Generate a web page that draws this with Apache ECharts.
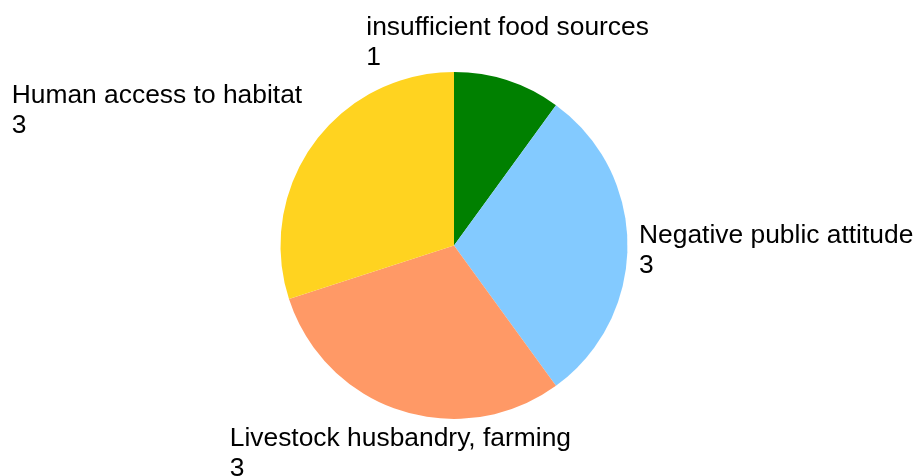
<!DOCTYPE html>
<html>
<head>
<meta charset="utf-8">
<script src="https://cdn.jsdelivr.net/npm/echarts@6/dist/echarts.min.js"></script>
<style>html,body{margin:0;padding:0;background:#fff;}#c{width:918px;height:476px;}</style>
</head>
<body>
<div id="c"></div>
<script>
const categories = ['insufficient food sources', 'Negative public attitude', 'Livestock husbandry, farming', 'Human access to habitat'];
const values = [1, 3, 3, 3];
const colors = ['#008000', '#83CAFF', '#FF9966', '#FFD320'];

const CX = 454, CY = 245.5, R = 173.5;
const total = values.reduce((a, b) => a + b, 0);
function midAngle(i) {
  let before = 0;
  for (let k = 0; k < i; k++) before += values[k];
  return (before + values[i] / 2) / total * 2 * Math.PI;
}

const chart = echarts.init(document.getElementById('c'), null, {renderer: 'canvas'});
chart.setOption({
  backgroundColor: '#ffffff',
  animation: false,
  series: [{
    type: 'pie',
    center: [CX, CY],
    radius: R,
    startAngle: 90,
    clockwise: true,
    avoidLabelOverlap: false,
    itemStyle: {borderWidth: 0},
    label: {
      show: true,
      position: 'outside',
      formatter: '{b}\n{c}',
      fontFamily: 'Liberation Sans',
      fontSize: 26.4,
      lineHeight: 30,
      color: '#000',
      align: 'left'
    },
    labelLine: {show: false},
    emphasis: {disabled: true},
    data: categories.map((n, i) => ({name: n, value: values[i], itemStyle: {color: colors[i]}})),
    labelLayout: function (p) {
      const a = midAngle(p.dataIndex);
      const s = Math.sin(a), c = Math.cos(a);
      const px = CX + R * s, py = CY - R * c;
      const w = p.labelRect.width, h = p.labelRect.height;
      const centeredX = Math.abs(s) < 0.5;
      let x, y;
      if (centeredX) x = px - w / 2;
      else if (s > 0) x = px + 11.5;
      else x = px - 11.5 - w;
      if (Math.abs(c) < 0.5) y = py - h / 2 + 5;
      else if (c > 0) y = py - h - (centeredX ? 7.5 : 3);
      else y = py + 13;
      return {x: x, y: y, align: 'left', verticalAlign: 'top'};
    }
  }]
});
</script>
</body>
</html>
